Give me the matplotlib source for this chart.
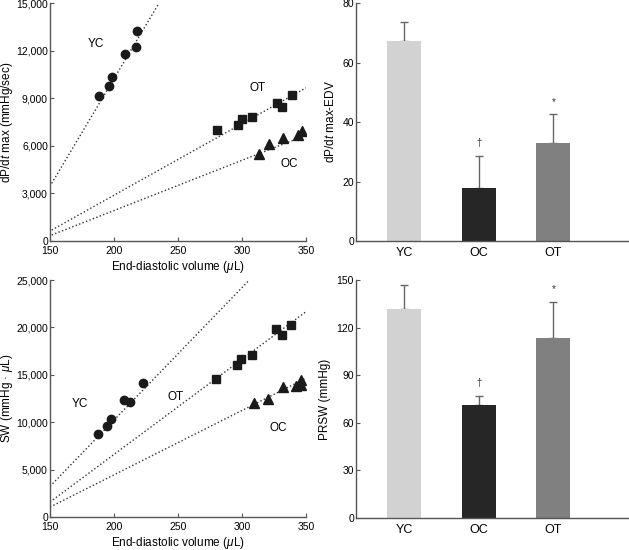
import numpy as np
import matplotlib
matplotlib.use('Agg')
import matplotlib.pyplot as plt

plt.rcParams['font.family'] = ['Liberation Sans', 'DejaVu Sans']
plt.rcParams['mathtext.fontset'] = 'custom'
plt.rcParams['mathtext.rm'] = 'Liberation Sans'
plt.rcParams['mathtext.it'] = 'Liberation Sans:italic'

# --- dP/dt max vs EDV ---
yc_edv1 = [188.0, 196.4, 198.7, 208.9, 216.9, 218.2]
yc_dpdt = [9170, 9750, 10320, 11810, 12250, 13220]
ot_edv1 = [280.2, 296.9, 300.0, 307.8, 327.1, 331.2, 339.1]
ot_dpdt = [6990, 7340, 7680, 7830, 8690, 8460, 9190]
oc_edv1 = [313.5, 321.4, 332.3, 343.5, 346.6]
oc_dpdt = [5480, 6110, 6500, 6670, 6940]
# regression lines (x range, y endpoints)
yc_fit1 = ([151.3, 234.9], [3630, 14960])
ot_fit1 = ([151.3, 350.0], [690, 9650])
oc_fit1 = ([151.3, 350.0], [380, 6670])

# --- SW vs EDV ---
yc_edv2 = [187.2, 194.3, 197.4, 207.8, 212.8, 222.4]
yc_sw = [8710, 9550, 10290, 12320, 12080, 14120]
ot_edv2 = [279.7, 296.1, 298.9, 307.6, 326.6, 331.2, 338.5]
ot_sw = [14610, 16050, 16680, 17140, 19800, 19240, 20230]
oc_edv2 = [309.6, 320.1, 331.8, 342.2, 346.1, 346.1]
oc_sw = [12040, 12500, 13760, 13800, 13940, 14470]
yc_fit2 = ([150.0, 305.7], [3230, 25000])
ot_fit2 = ([150.0, 350.0], [1580, 21660])
oc_fit2 = ([150.0, 350.0], [1050, 14640])

# --- bar charts ---
groups = ['YC', 'OC', 'OT']
bar_colors = ['#d2d2d2', '#262626', '#808080']
slope_mean = [67.1, 17.8, 33.1]
slope_err = [6.5, 10.9, 9.5]
slope_marks = ['', '†', '*']
prsw_mean = [131.9, 71.1, 113.2]
prsw_err = [15.1, 5.9, 22.7]
prsw_marks = ['', '†', '*']

spine_col = '#555555'
fs = 8.5
tfs = 7.5

fig = plt.figure(figsize=(6.29, 5.5), dpi=100)
ax1 = fig.add_axes([0.0795, 0.5618, 0.407, 0.4327])
ax2 = fig.add_axes([0.566, 0.5618, 0.432, 0.4327])
ax3 = fig.add_axes([0.0795, 0.06, 0.407, 0.4309])
ax4 = fig.add_axes([0.566, 0.0582, 0.432, 0.4327])


def style(ax):
    for s in ['top', 'right']:
        ax.spines[s].set_visible(False)
    for s in ['left', 'bottom']:
        ax.spines[s].set_color(spine_col)
        ax.spines[s].set_linewidth(1.0)
    ax.tick_params(direction='in', length=3, color=spine_col, labelsize=tfs, pad=1.5)


def scatter_panel(ax, data, fits, labels, ymax, yticks, ylabel):
    markers = ['o', 's', '^']
    sizes = [6, 5.5, 6.5]
    for (x, y), m, s in zip(data, markers, sizes):
        ax.plot(x, y, m, color='#1a1a1a', ms=s, zorder=3)
    for fx, fy in fits:
        ax.plot(fx, fy, ':', color='#333333', lw=1.0)
    for txt, (lx, ly) in labels:
        ax.text(lx, ly, txt, fontsize=fs, ha='center', va='center')
    ax.set_xlim(150, 350)
    ax.set_ylim(0, ymax)
    ax.set_xticks([150, 200, 250, 300, 350])
    ax.set_yticks(yticks)
    ax.set_yticklabels([f'{v:,}' for v in yticks])
    ax.set_xlabel('End-diastolic volume ($\\mathit{\\mu}$L)', fontsize=fs, labelpad=2)
    ax.set_ylabel(ylabel, fontsize=fs, labelpad=1)
    style(ax)
    ax.tick_params(axis='x', pad=3.5)


scatter_panel(ax1,
              [(yc_edv1, yc_dpdt), (ot_edv1, ot_dpdt), (oc_edv1, oc_dpdt)],
              [yc_fit1, ot_fit1, oc_fit1],
              [('YC', (186, 12440)), ('OT', (312, 9650)), ('OC', (337, 4850))],
              15000, [0, 3000, 6000, 9000, 12000, 15000],
              'dP/d$\\mathit{t}$ max (mmHg/sec)')

scatter_panel(ax3,
              [(yc_edv2, yc_sw), (ot_edv2, ot_sw), (oc_edv2, oc_sw)],
              [yc_fit2, ot_fit2, oc_fit2],
              [('YC', (173, 11900)), ('OT', (248, 12710)), ('OC', (328, 9380))],
              25000, [0, 5000, 10000, 15000, 20000, 25000],
              'SW (mmHg · $\\mathit{\\mu}$L)')


def bar_panel(ax, means, errs, marks, ymax, yticks, ylabel, mark_off):
    x = np.arange(len(groups))
    ax.bar(x, means, width=0.455, color=bar_colors, zorder=2)
    ax.errorbar(x, means, yerr=[np.zeros(len(errs)), errs], fmt='none',
                ecolor='#666666', elinewidth=1.0, capsize=3, capthick=1.0, zorder=1)
    for xi, m, e, mk in zip(x, means, errs, marks):
        if mk:
            ax.text(xi, m + e + mark_off, mk, ha='center', va='bottom', fontsize=fs - 1.5,
                    color='#333333')
    ax.set_xlim(-0.65, 3.0)
    ax.set_ylim(0, ymax)
    ax.set_xticks(x)
    ax.set_xticklabels(groups)
    ax.set_yticks(yticks)
    ax.set_ylabel(ylabel, fontsize=fs, labelpad=4)
    style(ax)
    ax.tick_params(axis='x', length=0, labelsize=fs + 0.5, pad=4)


bar_panel(ax2, slope_mean, slope_err, slope_marks, 80, [0, 20, 40, 60, 80],
          'dP/d$\\mathit{t}$ max-EDV', 2.5)
bar_panel(ax4, prsw_mean, prsw_err, prsw_marks, 150, [0, 30, 60, 90, 120, 150],
          'PRSW (mmHg)', 5.0)

fig.savefig('out.png', dpi=100)
